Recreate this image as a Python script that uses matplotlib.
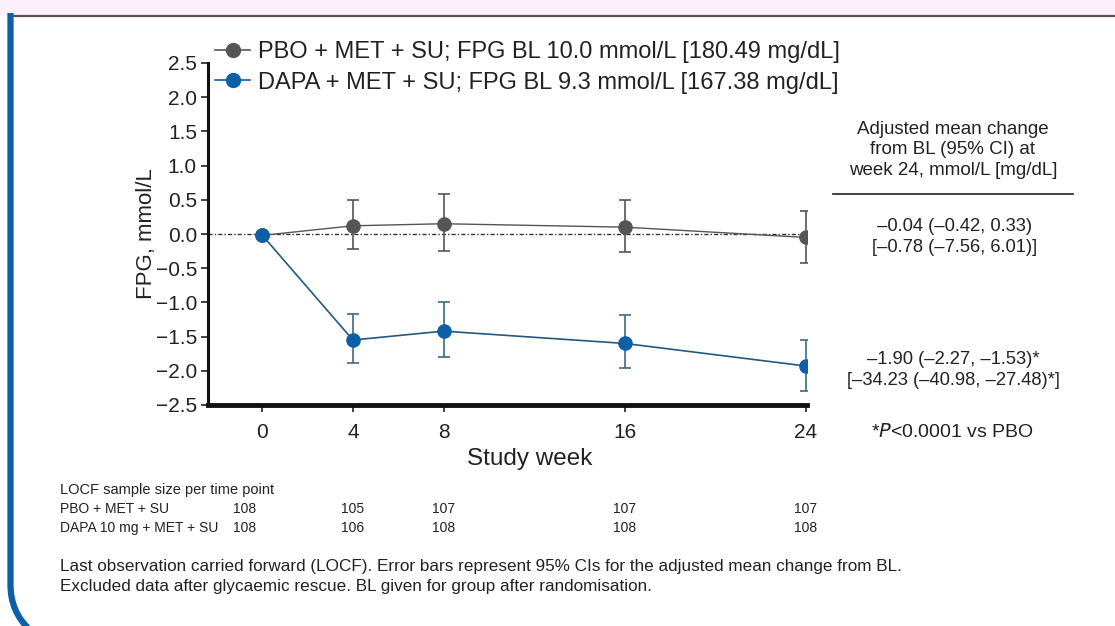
import matplotlib
matplotlib.use("Agg")
import matplotlib.pyplot as plt
from matplotlib.lines import Line2D
from matplotlib.patches import Rectangle, PathPatch
from matplotlib.path import Path
import matplotlib.transforms as mtransforms

# ---------------- data ----------------
weeks = [0, 4, 8, 16, 24]
pbo_mean = [-0.02, 0.12, 0.15, 0.10, -0.05]
pbo_lo = [-0.02, -0.22, -0.25, -0.26, -0.42]
pbo_hi = [-0.02, 0.50, 0.59, 0.50, 0.33]
dapa_mean = [-0.02, -1.55, -1.42, -1.60, -1.93]
dapa_lo = [-0.02, -1.88, -1.80, -1.96, -2.30]
dapa_hi = [-0.02, -1.17, -0.99, -1.18, -1.55]
yticks = [2.5, 2.0, 1.5, 1.0, 0.5, 0.0, -0.5, -1.0, -1.5, -2.0, -2.5]
n_pbo = [108, 105, 107, 107, 107]
n_dapa = [108, 106, 108, 108, 108]
label_pbo = "PBO + MET + SU; FPG BL 10.0 mmol/L [180.49 mg/dL]"
label_dapa = "DAPA + MET + SU; FPG BL 9.3 mmol/L [167.38 mg/dL]"

GRAY = "#555555"
BLUE = "#0d5fa6"

plt.rcParams['font.family'] = ['Liberation Sans', 'DejaVu Sans']
NARROW = ['Liberation Sans Narrow', 'Liberation Sans', 'DejaVu Sans']

W, H = 1115, 626
fig = plt.figure(figsize=(W / 100, H / 100), dpi=100)

def fx(px):
    return px / W

def fy(py):
    return 1 - py / H

# ---------------- frame decorations ----------------
fig.patches.append(Rectangle((0, fy(15)), 1, 15 / H, transform=fig.transFigure,
                             facecolor="#fcf1fa", edgecolor="none", zorder=0))
fig.lines.append(Line2D([fx(12), 1], [fy(16), fy(16)], transform=fig.transFigure,
                        color="#5d4a5b", lw=1.6))
verts = [(fx(10.5), fy(13)), (fx(10.5), fy(585)), (fx(10.5), fy(612)),
         (fx(30), fy(630))]
codes = [Path.MOVETO, Path.LINETO, Path.CURVE3, Path.CURVE3]
fig.patches.append(PathPatch(Path(verts, codes), transform=fig.transFigure,
                             facecolor="none", edgecolor=BLUE, lw=4.5,
                             capstyle='butt'))

# ---------------- axes ----------------
ax = fig.add_axes([fx(208), fy(405), fx(807) - fx(208), fy(63) - fy(405)])
ax.set_xlim(-2.4, 24.05)
ax.set_ylim(-2.5, 2.5)
ax.spines['top'].set_visible(False)
ax.spines['right'].set_visible(False)
ax.spines['left'].set_linewidth(2.2)
ax.spines['bottom'].set_linewidth(3.5)
ax.spines['left'].set_color("#111111")
ax.spines['bottom'].set_color("#111111")
ax.set_xticks(weeks)
ax.set_xticklabels([str(w) for w in weeks])
ax.set_yticks(yticks)
ax.set_yticklabels([f"{v:.1f}".replace("-", "\u2212") for v in yticks])
ax.tick_params(axis='both', labelsize=15, colors="#222222", length=5, width=1.2)
ax.tick_params(axis='x', pad=8)
ax.tick_params(axis='y', pad=3)
ax.set_ylabel("FPG, mmol/L", fontsize=16, color="#222222")
ax.yaxis.set_label_coords(-0.085, 0.5)
ax.set_xlabel("Study week", fontsize=17.5, color="#222222")
ax.xaxis.set_label_coords(0.537, -0.125)

ax.axhline(0, color="#333333", lw=1.0, ls=(0, (3, 1.5, 1, 1.5)), zorder=1)

ax.errorbar(weeks, pbo_mean,
            yerr=[[m - l for m, l in zip(pbo_mean, pbo_lo)],
                  [h - m for m, h in zip(pbo_mean, pbo_hi)]],
            color=GRAY, ecolor="#555555", elinewidth=1.2, capsize=4, capthick=1.2,
            lw=1.0, marker='o', ms=9.5, mfc=GRAY, mec=GRAY, zorder=3)
ax.errorbar(weeks, dapa_mean,
            yerr=[[m - l for m, l in zip(dapa_mean, dapa_lo)],
                  [h - m for m, h in zip(dapa_mean, dapa_hi)]],
            color="#24597e", ecolor="#3d6a80", elinewidth=1.2, capsize=4, capthick=1.2,
            lw=1.2, marker='o', ms=9.5, mfc=BLUE, mec=BLUE, zorder=4)

# legend
handles = [Line2D([], [], color=GRAY, marker='o', ms=10, lw=1.2),
           Line2D([], [], color=BLUE, marker='o', ms=10, lw=1.2)]
fig.legend(handles, [label_pbo, label_dapa], loc='upper left',
           bbox_to_anchor=(fx(215), fy(41)), frameon=False, fontsize=17,
           handlelength=1.5, handletextpad=0.34, labelspacing=0.37,
           borderaxespad=0, borderpad=0, labelcolor="#222222")

# ---------------- right annotation ----------------
tc = "#222222"
fig.text(fx(953), fy(150), "Adjusted mean change\nfrom BL (95% CI) at\nweek 24, mmol/L [mg/dL]",
         ha='center', va='center', fontsize=13.5, color=tc, linespacing=1.3,
         family=NARROW)
fig.lines.append(Line2D([fx(833), fx(1073)], [fy(194), fy(194)],
                        transform=fig.transFigure, color="#333333", lw=1.3))
fig.text(fx(955), fy(237), "\u20130.04 (\u20130.42, 0.33)\n[\u20130.78 (\u20137.56, 6.01)]",
         ha='center', va='center', fontsize=13.2, color=tc, linespacing=1.35,
         family=NARROW)
fig.text(fx(953), fy(370), "\u20131.90 (\u20132.27, \u20131.53)*\n[\u201334.23 (\u201340.98, \u201327.48)*]",
         ha='center', va='center', fontsize=13.2, color=tc, linespacing=1.35,
         family=NARROW)
fig.text(fx(952), fy(432), "*$\\mathit{P}$<0.0001 vs PBO",
         ha='center', va='center', fontsize=14, color=tc, family=NARROW)

# ---------------- sample size table ----------------
blend = mtransforms.blended_transform_factory(ax.transData, fig.transFigure)
tfs = 10
fig.text(fx(60), fy(490), "LOCF sample size per time point", ha='left', va='center',
         fontsize=10.5, color=tc, family=NARROW)
fig.text(fx(60), fy(509), "PBO + MET + SU", ha='left', va='center',
         fontsize=tfs, color=tc, family=NARROW)
fig.text(fx(60), fy(528), "DAPA 10 mg + MET + SU", ha='left', va='center',
         fontsize=tfs, color=tc, family=NARROW)
for w, a, b in zip(weeks, n_pbo, n_dapa):
    xx = w - 0.8 if w == 0 else w
    fig.text(xx, fy(509), str(a), transform=blend, ha='center', va='center',
             fontsize=tfs, color=tc, family=NARROW)
    fig.text(xx, fy(528), str(b), transform=blend, ha='center', va='center',
             fontsize=tfs, color=tc, family=NARROW)

fig.text(fx(60), fy(567),
         "Last observation carried forward (LOCF). Error bars represent 95% CIs for the adjusted mean change from BL.",
         ha='left', va='center', fontsize=12.3, color=tc, family=NARROW)
fig.text(fx(60), fy(587),
         "Excluded data after glycaemic rescue. BL given for group after randomisation.",
         ha='left', va='center', fontsize=12.3, color=tc, family=NARROW)

fig.savefig("out.png", dpi=100, facecolor="white")
